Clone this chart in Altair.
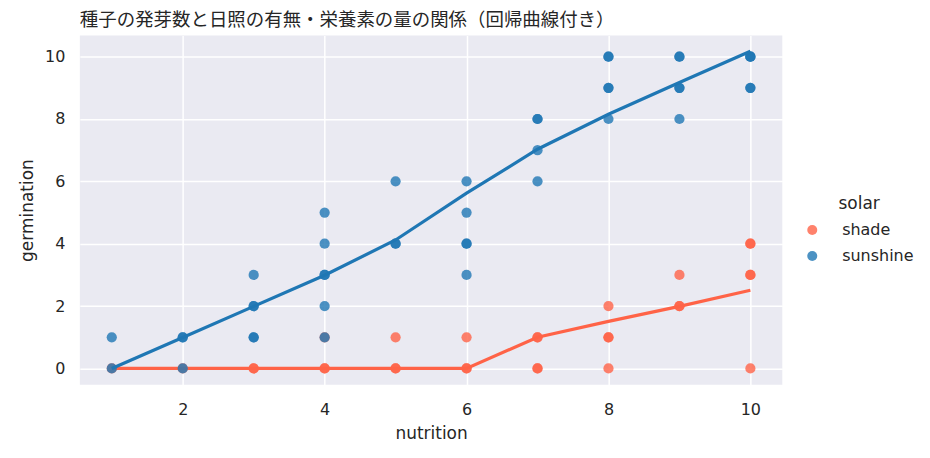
import altair as alt
import pandas as pd

# ---- data ----
shade_nutrition   = [1, 2, 3, 3, 4, 4, 4, 5, 5, 5, 6, 6, 6, 7, 7, 7, 7, 8, 8, 8, 8, 9, 9, 9, 10, 10, 10, 10, 10]
shade_germination = [0, 0, 0, 0, 0, 0, 1, 0, 0, 1, 0, 0, 1, 0, 0, 1, 1, 0, 1, 1, 2, 2, 2, 3, 0, 3, 3, 4, 4]

sun_nutrition   = [1, 1, 2, 2, 2, 3, 3, 3, 3, 3, 4, 4, 4, 4, 4, 4, 5, 5, 5, 6, 6, 6, 6, 6,
                   7, 7, 7, 7, 8, 8, 8, 8, 8, 9, 9, 9, 9, 9, 10, 10, 10, 10, 10]
sun_germination = [0, 1, 0, 1, 1, 1, 1, 2, 2, 3, 1, 2, 3, 3, 4, 5, 4, 4, 6, 3, 4, 4, 5, 6,
                   6, 7, 8, 8, 8, 9, 9, 10, 10, 8, 9, 9, 10, 10, 9, 9, 10, 10, 10]

fit_nutrition = [1, 2, 3, 4, 5, 6, 7, 8, 9, 10]
shade_fit = [0.0, 0.0, 0.0, 0.0, 0.0, 0.0, 1.0, 1.51, 1.99, 2.51]
sun_fit   = [0.0, 0.99, 1.99, 2.99, 4.12, 5.62, 7.03, 8.15, 9.17, 10.17]

groups = ["shade", "sunshine"]
colors = ["#ff6347", "#1f77b4"]

points = pd.DataFrame({
    "nutrition": shade_nutrition + sun_nutrition,
    "germination": shade_germination + sun_germination,
    "solar": ["shade"] * len(shade_nutrition) + ["sunshine"] * len(sun_nutrition),
})
fits = pd.DataFrame({
    "nutrition": fit_nutrition + fit_nutrition,
    "germination": shade_fit + sun_fit,
    "solar": ["shade"] * len(fit_nutrition) + ["sunshine"] * len(fit_nutrition),
})

x_enc = alt.X("nutrition:Q", title="nutrition",
              scale=alt.Scale(domain=[0.55, 10.45], nice=False, zero=False),
              axis=alt.Axis(values=[2, 4, 6, 8, 10], labelPadding=17, titlePadding=8))
y_enc = alt.Y("germination:Q", title="germination",
              scale=alt.Scale(domain=[-0.52, 10.68], nice=False, zero=False),
              axis=alt.Axis(values=[0, 2, 4, 6, 8, 10], labelPadding=15, titlePadding=8))

color_enc = alt.Color("solar:N", scale=alt.Scale(domain=groups, range=colors),
                      legend=alt.Legend(title="solar", orient="none", legendX=726, legendY=161,
                                        titleAnchor="middle", titlePadding=9, rowPadding=10,
                                        labelOffset=22, symbolSize=100, symbolOpacity=0.8,
                                        padding=0))

base_pts = alt.Chart(points).mark_circle(size=105, opacity=0.8).encode(
    x=x_enc, y=y_enc, color=color_enc)
base_fit = alt.Chart(fits).mark_line(strokeWidth=3.2).encode(x=x_enc, y=y_enc)

layers = []
for g, c in zip(groups, colors):
    layers.append(base_pts.transform_filter(alt.datum.solar == g))
    layers.append(base_fit.transform_filter(alt.datum.solar == g).encode(color=alt.value(c)))

chart = alt.layer(*layers).properties(
    width=704, height=350,
    title=alt.TitleParams("種子の発芽数と日照の有無・栄養素の量の関係（回帰曲線付き）",
                          anchor="start", frame="group", font="Noto Sans CJK JP", fontSize=18.5,
                          fontWeight="normal", color="#262626", offset=6),
    autosize=alt.AutoSizeParams(type="none"),
    padding={"left": 72, "top": 27, "right": 140, "bottom": 70},
).configure_view(
    fill="#eaeaf2", stroke=None
).configure_axis(
    grid=True, gridColor="white", gridWidth=1.5, domain=False, ticks=False,
    labelFont="DejaVu Sans", labelFontSize=16, labelColor="#262626",
    titleFont="DejaVu Sans", titleFontSize=17, titleFontWeight="normal", titleColor="#262626",
).configure_legend(
    labelFont="DejaVu Sans", labelFontSize=16, labelColor="#262626",
    titleFont="DejaVu Sans", titleFontSize=17, titleFontWeight="normal", titleColor="#262626",
)

chart.save("out.html", embed_options={"renderer": "svg", "actions": False})
